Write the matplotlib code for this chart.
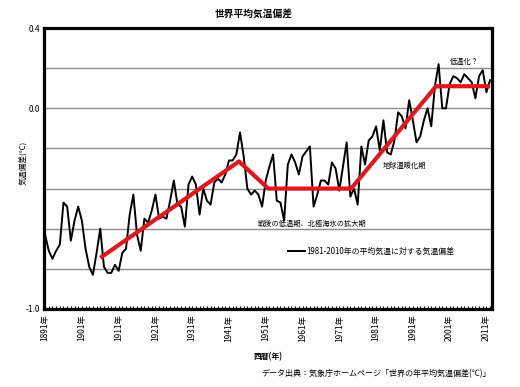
import matplotlib
matplotlib.use('Agg')
import matplotlib.pyplot as plt
from matplotlib.ticker import MultipleLocator

plt.rcParams['font.family'] = ['Noto Sans CJK JP', 'DejaVu Sans']

# annual anomaly vs 1981-2010 mean
years = list(range(1891, 2013))
anomaly = [
    -0.63, -0.71, -0.75, -0.71, -0.68, -0.47, -0.49, -0.66, -0.56, -0.49,  # 1891-1900
    -0.56, -0.70, -0.79, -0.83, -0.72, -0.60, -0.79, -0.82, -0.82, -0.78,  # 1901-1910
    -0.81, -0.72, -0.70, -0.53, -0.43, -0.63, -0.71, -0.55, -0.57, -0.51,  # 1911-1920
    -0.43, -0.55, -0.54, -0.55, -0.46, -0.36, -0.48, -0.49, -0.59, -0.38,  # 1921-1930
    -0.34, -0.38, -0.53, -0.40, -0.46, -0.48, -0.37, -0.35, -0.37, -0.33,  # 1931-1940
    -0.26, -0.26, -0.23, -0.12, -0.24, -0.40, -0.43, -0.41, -0.43, -0.49,  # 1941-1950
    -0.36, -0.29, -0.23, -0.46, -0.47, -0.56, -0.28, -0.23, -0.27, -0.33,  # 1951-1960
    -0.24, -0.215, -0.19, -0.49, -0.43, -0.36, -0.36, -0.38, -0.27, -0.30,  # 1961-1970
    -0.41, -0.29, -0.17, -0.44, -0.40, -0.48, -0.19, -0.28, -0.16, -0.14,  # 1971-1980
    -0.09, -0.21, -0.06, -0.22, -0.23, -0.16, -0.02, -0.04, -0.10, 0.04,   # 1981-1990
    -0.06, -0.17, -0.14, -0.06, 0.00, -0.09, 0.11, 0.22, 0.00, 0.00,       # 1991-2000
    0.12, 0.16, 0.15, 0.13, 0.17, 0.15, 0.13, 0.05, 0.16, 0.19,            # 2001-2010
    0.08, 0.14,                                                            # 2011-2012
]

# hand drawn trend segments (red)
trend_years = [1906, 1943.7, 1951.7, 1974.2, 1997.3, 2012]
trend_vals = [-0.745, -0.265, -0.40, -0.40, 0.11, 0.11]

tick_years = list(range(1891, 2012, 10))
tick_labels = [f'{y}年' for y in tick_years]
ytick_vals = [0.4, 0.2, 0.0, -0.2, -0.4, -0.6, -0.8, -1.0]
ytick_labels = ['0.4', '', '0.0', '', '', '', '', '-1.0']

notes = [
    ('戦後の低温期、北極海氷の拡大期', 1963.6, -0.577),
    ('地球温暖化期', 1988.6, -0.286),
    ('低温化？', 2004.9, 0.233),
]

fig = plt.figure(figsize=(5.2, 3.87), dpi=100)
ax = fig.add_axes([0.0846, 0.2016, 0.8614, 0.726])

for v in ytick_vals:
    ax.axhline(v, color='#8c8c8c', linewidth=1.0, zorder=1)

ax.plot(years, anomaly, color='black', linewidth=1.4, zorder=3,
        label='1981-2010年の平均気温に対する気温偏差')
ax.plot(trend_years, trend_vals, color='#e3161c', linewidth=3.0,
        solid_capstyle='butt', zorder=4)

ax.set_xlim(1890.7, 2012.5)
ax.set_ylim(-1.0, 0.4)
ax.set_yticks(ytick_vals)
ax.set_yticklabels(ytick_labels, fontsize=6)
ax.tick_params(axis='y', length=0, pad=3)
ax.set_xticks(tick_years)
ax.set_xticklabels(tick_labels, rotation=90, fontsize=6)
ax.xaxis.set_minor_locator(MultipleLocator(1))
ax.tick_params(axis='x', which='both', direction='in', length=2.5,
               width=0.8, pad=4)

for s in ax.spines.values():
    s.set_linewidth(2.3)

for txt, x, y in notes:
    ax.text(x, y, txt, fontsize=5.2, ha='center', va='center', zorder=5)

ax.legend(loc='center left', bbox_to_anchor=(288 / 520, 1 - 251 / 387),
          bbox_transform=fig.transFigure, frameon=False, fontsize=5.7,
          handlelength=2.1, handletextpad=0.15, borderpad=0,
          borderaxespad=0)

fig.text(0.487, 1 - 14 / 387, '世界平均気温偏差', fontsize=7,
         fontweight='bold', ha='center', va='center')
fig.text(23 / 520, 0.58, '気温偏差(℃)', fontsize=5.6, rotation=90,
         ha='center', va='center')
fig.text(268 / 520, 1 - 357 / 387, '西暦(年)', fontsize=5.6,
         fontweight='bold', ha='center', va='center')
fig.text(491 / 520, 1 - 374 / 387,
         'データ出典：気象庁ホームページ「世界の年平均気温偏差(℃)」',
         fontsize=5.8, ha='right', va='center')

fig.savefig('out.png', dpi=100)
